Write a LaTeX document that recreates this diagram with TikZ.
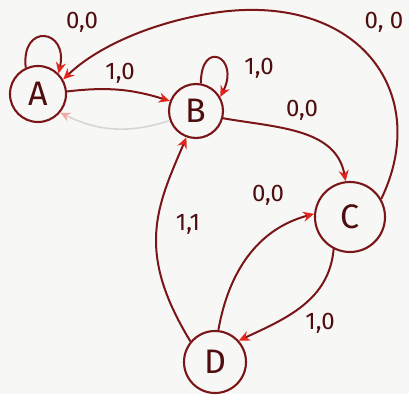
\documentclass[tikz,border=0pt]{standalone}
\usepackage{fontspec}
\setmainfont{Fira Sans}
\usetikzlibrary{arrows.meta}
\definecolor{ink}{HTML}{7A1518}
\definecolor{tip}{HTML}{E1251F}
\definecolor{lbl}{HTML}{4E0E0F}
\definecolor{paper}{HTML}{F7F7F5}
\tikzset{
  st/.style={circle,draw=ink,line width=2.1pt,minimum size=56pt,inner sep=0pt,font=\fontsize{34}{34}\selectfont,text=lbl},
  tr/.style={draw=ink,line width=2pt,-{Stealth[length=11pt,width=10pt,color=tip]}},
  gone/.style={draw=black!16,line width=1.6pt,-{Stealth[length=10pt,width=9pt,color=tip!40]}},
  io/.style={font=\fontsize{24}{24}\selectfont,text=lbl,inner sep=1pt}
}

\begin{document}
\begin{tikzpicture}[x=1pt,y=1pt]
\fill[paper] (0,0) rectangle (409,394);
\useasboundingbox (0,0) rectangle (409,394);
% states
\node[st] (A) at (38,300) {A};
\node[st,minimum size=54pt] (B) at (196,283) {B};
\node[st,minimum size=70pt] (C) at (350,177) {C};
\node[st,minimum size=62pt] (D) at (215,32) {D};
% transitions
\draw[tr] (A.115) .. controls +(-5,45) and +(10,45) .. (A.45);
\node[io] (lAA) at (82,372) {0,0};
\draw[tr] (A.5) to[bend left=12] (B.159);
\node[io] (lAB) at (120,321) {1,0};
\draw[gone] (B.200) to[bend left=22] (A.-40);
\draw[tr] (B.80) .. controls +(0,45) and +(20,40) .. (B.30);
\node[io] (lBB) at (259,326) {1,0};
\draw[tr] (B.-15) to[out=-10,in=100] (C.97);
\node[io] (lBC) at (302,284) {0,0};
\draw[tr] (C.30) .. controls (432,300) and (360,400) .. (220,382)
  .. controls (160,374) and (100,350) .. (A.30);
\node[io] (lCA) at (384,372) {0, 0};
\draw[tr] (D.84) to[out=80,in=195] (C.175);
\node[io] (lDC) at (268,199) {0,0};
\draw[tr] (C.243) to[out=-95,in=25] (D.42);
\node[io] (lCD) at (320,71) {1,0};
\draw[tr] (D.140) .. controls +(-55,90) and +(-30,-70) .. (B.250);
\node[io] (lDB) at (188,170) {1,1};
\end{tikzpicture}
\end{document}
